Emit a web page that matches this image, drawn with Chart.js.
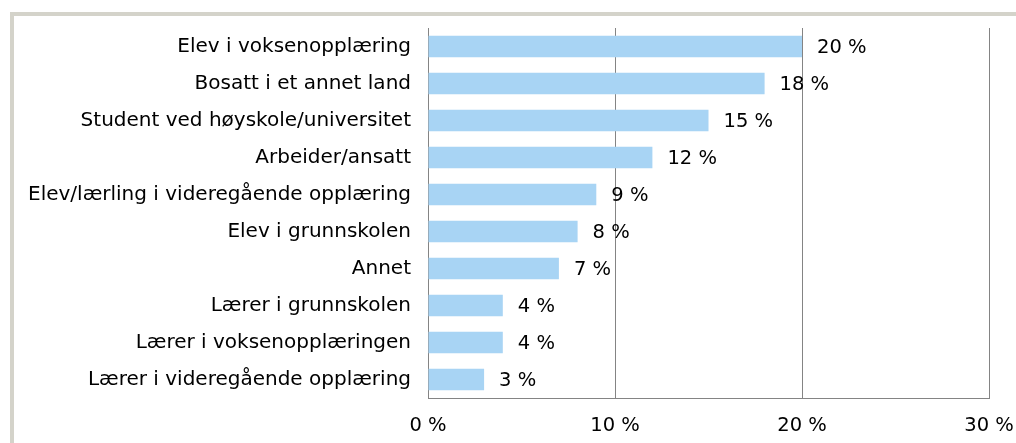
<!DOCTYPE html>
<html>
<head>
<meta charset="utf-8">
<script src="https://cdn.jsdelivr.net/npm/chart.js@4"></script>
<style>
html,body{margin:0;padding:0;background:#fff;width:1016px;height:443px;overflow:hidden;}
#frame{position:absolute;left:10px;top:12px;width:1010px;height:440px;border-left:4px solid #d4d3ca;border-top:4px solid #d4d3ca;box-sizing:border-box;}
#wrap{position:absolute;left:0;top:0;width:1016px;height:443px;}
</style>
</head>
<body>
<div id="frame"></div>
<div id="wrap"><canvas id="c" width="1016" height="443"></canvas></div>
<script>
const categories = [
  "Elev i voksenopplæring",
  "Bosatt i et annet land",
  "Student ved høyskole/universitet",
  "Arbeider/ansatt",
  "Elev/lærling i videregående opplæring",
  "Elev i grunnskolen",
  "Annet",
  "Lærer i grunnskolen",
  "Lærer i voksenopplæringen",
  "Lærer i videregående opplæring"
];
const values = [20, 18, 15, 12, 9, 8, 7, 4, 4, 3];
const xTicks = [0, 10, 20, 30];

const FONT = "'DejaVu Sans', Verdana, sans-serif";

const valueLabels = {
  id: 'valueLabels',
  afterDatasetsDraw(chart) {
    const ctx = chart.ctx;
    const meta = chart.getDatasetMeta(0);
    ctx.save();
    ctx.font = "19.5px " + FONT;
    ctx.fillStyle = "#000";
    ctx.textBaseline = "middle";
    ctx.textAlign = "left";
    meta.data.forEach((bar, i) => {
      ctx.fillText(values[i] + " %", bar.x + 15, bar.y + 1);
    });
    ctx.restore();
  }
};

new Chart(document.getElementById('c'), {
  type: 'bar',
  data: {
    labels: categories,
    datasets: [{
      data: values,
      backgroundColor: '#a8d4f4',
      borderWidth: 0,
      barPercentage: 0.58,
      categoryPercentage: 1.0
    }]
  },
  options: {
    indexAxis: 'y',
    responsive: false,
    animation: false,
    devicePixelRatio: 1,
    layout: { padding: { left: 0, right: 27, top: 28, bottom: 0 } },
    plugins: { legend: { display: false }, tooltip: { enabled: false } },
    scales: {
      x: {
        min: 0, max: 30,
        afterBuildTicks(axis) { axis.ticks = xTicks.map(v => ({ value: v })); },
        afterFit(axis) { axis.height = 45; axis.paddingLeft = 0; axis.paddingRight = 0; },
        grid: { color: '#848484', lineWidth: 1, drawTicks: false },
        border: { color: '#848484', width: 1 },
        ticks: {
          color: '#000',
          font: { family: FONT, size: 19.5 },
          padding: 16,
          callback: (v) => v + ' %'
        }
      },
      y: {
        afterFit(axis) { axis.width = 428; axis.paddingTop = 0; axis.paddingBottom = 0; },
        grid: { display: false, drawTicks: false },
        border: { color: '#848484', width: 1 },
        ticks: {
          color: '#000',
          font: { family: FONT, size: 20 },
          padding: 17,
          autoSkip: false
        }
      }
    }
  },
  plugins: [valueLabels]
});
</script>
</body>
</html>
